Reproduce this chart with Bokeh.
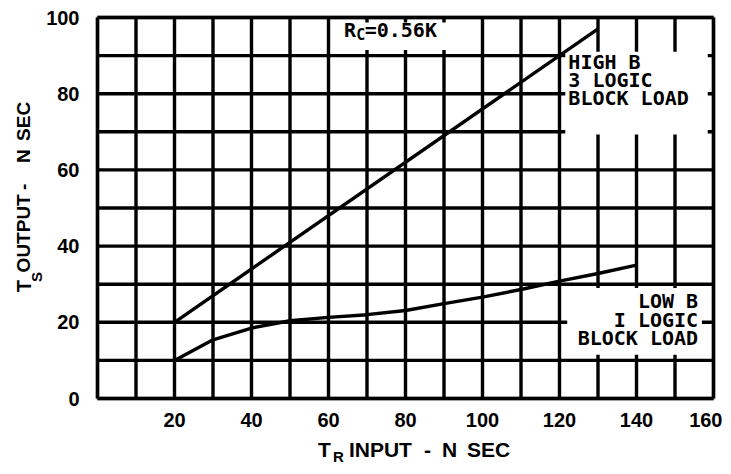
from bokeh.plotting import figure
from bokeh.models import Range1d, FixedTicker, Label, BoxAnnotation, LinearAxis
from bokeh.embed import file_html
from bokeh.resources import INLINE
import math

# ---- data ----
high_x = [20, 130]
high_y = [20, 97]
low_x = [20, 30, 40, 50, 60, 70, 80, 90, 100, 110, 120, 130, 140]
low_y = [10, 15.4, 18.5, 20.4, 21.3, 22.0, 23.1, 24.9, 26.6, 28.6, 30.8, 32.8, 35.0]
x_ticks = [20, 40, 60, 80, 100, 120, 140, 160]
y_ticks = [0, 20, 40, 60, 80, 100]
grid_x = list(range(0, 161, 10))
grid_y = list(range(0, 101, 10))
X_MIN, X_MAX, Y_MIN, Y_MAX = 0, 160, 0, 100

SANS = "Liberation Sans"
MONO = "DejaVu Sans Mono"

# ---- layout: the frame spans the whole canvas so that titles can sit outside the grid ----
W, H = 722, 465
PX_LEFT, PX_RIGHT, PX_TOP, PX_BOTTOM = 97, 713, 17, 398
sx = (PX_RIGHT - PX_LEFT) / (X_MAX - X_MIN)
sy = (PX_BOTTOM - PX_TOP) / (Y_MAX - Y_MIN)
x0 = X_MIN - PX_LEFT / sx
y1 = Y_MAX + PX_TOP / sy

p = figure(frame_width=W, frame_height=H, min_border=0,
           x_range=Range1d(x0, x0 + W / sx), y_range=Range1d(y1 - H / sy, y1),
           x_axis_location=None, y_axis_location=None,
           output_backend="svg", toolbar_location=None,
           background_fill_color="white", border_fill_color="white")
p.outline_line_color = None
p.xgrid.visible = False
p.ygrid.visible = False

def axis_style(ax):
    ax.axis_line_color = None
    ax.major_tick_line_color = None
    ax.minor_tick_line_color = None
    ax.major_label_text_font = SANS
    ax.major_label_text_font_style = "bold"
    ax.major_label_text_font_size = "20px"
    ax.major_label_text_color = "black"

xax = LinearAxis(ticker=FixedTicker(ticks=x_ticks), fixed_location=Y_MIN)
yax = LinearAxis(ticker=FixedTicker(ticks=y_ticks), fixed_location=X_MIN)
axis_style(xax); axis_style(yax)
xax.major_label_standoff = 8
yax.major_label_standoff = 12
p.add_layout(xax, "below")
p.add_layout(yax, "left")

# grid lines at every 10 units
p.segment(x0=grid_x, y0=[Y_MIN] * len(grid_x), x1=grid_x, y1=[Y_MAX] * len(grid_x),
          line_color="black", line_width=3.4)
p.segment(x0=[X_MIN] * len(grid_y), y0=grid_y, x1=[X_MAX] * len(grid_y), y1=grid_y,
          line_color="black", line_width=3.4)

# white patches where the grid is interrupted by the annotations
boxes_l = [61.5, 121.5, 122]
boxes_r = [98, 158.5, 157]
boxes_b = [91.5, 69.3, 11.5]
boxes_t = [98.7, 91, 29]
p.quad(left=boxes_l, right=boxes_r, bottom=boxes_b, top=boxes_t,
       fill_color="white", line_color=None)

p.line(high_x, high_y, line_color="black", line_width=3.4)
p.line(low_x, low_y, line_color="black", line_width=3.4)

# frame border
p.add_layout(BoxAnnotation(left=X_MIN, right=X_MAX, bottom=Y_MIN, top=Y_MAX,
                           fill_alpha=0, line_color="black", line_width=4))

def lab(x, y, text, size, font=SANS, style="bold", align="left", angle=0.0):
    p.add_layout(Label(x=x, y=y, text=text, text_font=font, text_font_style=style,
                       text_font_size=f"{size}px", text_align=align,
                       text_baseline="middle", angle=angle, text_color="black"))

lab(64.0, 96.6, "R", 20, MONO)
lab(67.2, 95.3, "C", 15, MONO)
lab(69.4, 96.6, "=0.56K", 20, MONO)

lab(122.3, 88.3, "HIGH B", 20, MONO)
lab(122.3, 83.6, "3 LOGIC", 20, MONO)
lab(122.3, 78.8, "BLOCK LOAD", 20, MONO)

lab(156.0, 25.7, "LOW B", 20, MONO, align="right")
lab(156.0, 20.7, "I LOGIC", 20, MONO, align="right")
lab(156.0, 15.9, "BLOCK LOAD", 20, MONO, align="right")

# x axis title: T_R INPUT - N SEC
lab(57.3, -13.4, "T", 21)
lab(61.2, -15.2, "R", 15)
lab(65.3, -13.4, "INPUT", 21)
lab(84.8, -13.4, "-", 21)
lab(89.5, -13.4, "N", 21)
lab(96.0, -13.4, "SEC", 21)

# y axis title: T_S OUTPUT - N SEC (rotated)
A = math.pi / 2
lab(-19.1, 27.9, "T", 20, angle=A)
lab(-15.8, 30.6, "S", 15, angle=A)
lab(-19.1, 33.1, "OUTPUT", 19, angle=A)
lab(-19.1, 54.7, "-", 19, angle=A)
lab(-19.1, 61.8, "N", 19, angle=A)
lab(-19.1, 67.6, "SEC", 19, angle=A)

open("out.html", "w").write(file_html(p, INLINE))
